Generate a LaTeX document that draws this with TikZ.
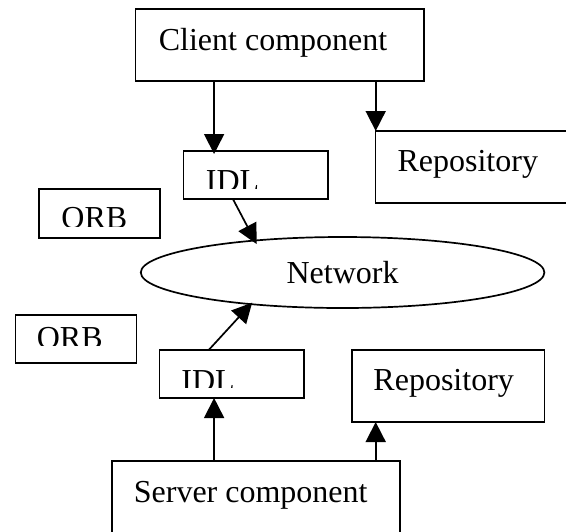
\documentclass[tikz,border=0pt]{standalone}
\usepackage{fontspec}
\setmainfont{Liberation Serif}
\usetikzlibrary{shapes.geometric}
\usetikzlibrary{arrows.meta}

\begin{document}
\begin{tikzpicture}[x=0.5pt,y=-0.5pt,line width=0.85pt,
  box/.style={draw,rectangle,inner sep=0,outer sep=0},
  lbl/.style={inner sep=0,anchor=base west,font=\fontsize{16}{19}\selectfont},
  arr/.style={-{Triangle[length=10pt,width=10pt]}}]
 \useasboundingbox (0,0) rectangle (566,531);
 \clip (0,0) rectangle (566,531);
 % boxes
 \node[box,minimum width=144.4pt,minimum height=36pt] (client) at (279.8,45) {};
 \node[box,minimum width=72.2pt,minimum height=24pt] (idlA) at (255.6,175) {};
 \node[box,minimum width=100pt,minimum height=36pt] (repoA) at (475.5,167) {};
 \node[box,minimum width=60.5pt,minimum height=24.5pt] (orbA) at (99.5,213.5) {};
 \node[draw,ellipse,inner sep=0,outer sep=0,minimum width=201.8pt,minimum height=35.5pt,
   font=\fontsize{16}{19}\selectfont] (net) at (342.6,272.5) {Network};
 \node[box,minimum width=60.5pt,minimum height=24pt] (orbB) at (76,339) {};
 \node[box,minimum width=72.2pt,minimum height=24pt] (idlB) at (231.8,374) {};
 \node[box,minimum width=96.2pt,minimum height=36pt] (repoB) at (448.2,386) {};
 \node[box,minimum width=144pt,minimum height=36pt] (server) at (256,497) {};
 % texts
 \node[lbl] (clienttxt) at (158,50.7) {Client component};
 \node[lbl] (repoAtxt) at (396.7,171.7) {Repository};
 \node[lbl] (repoBtxt) at (372.6,390.7) {Repository};
 \node[lbl] (servertxt) at (133,502) {Server component};
 \begin{scope}
  \clip (idlA.north west) rectangle (327.8,188);
  \node[lbl] (idlAtxt) at (205,191.7) {IDL};
 \end{scope}
 \begin{scope}
  \clip (orbA.north west) rectangle (160,226.7);
  \node[lbl] (orbAtxt) at (60.6,228.4) {ORB};
 \end{scope}
 \begin{scope}
  \clip (orbB.north west) rectangle (136.5,345);
  \node[lbl] (orbBtxt) at (36,348.4) {ORB};
 \end{scope}
 \begin{scope}
  \clip (idlB.north west) rectangle (304,387.7);
  \node[lbl] (idlBtxt) at (180.5,391.7) {IDL};
 \end{scope}
 % arrows
 \draw[arr,shorten >=-1.5pt] (client.south -| 214.1,0) -- (idlA.north -| 214.1,0);
 \draw[arr] (client.south -| 375.7,0) -- (repoA.north -| 375.7,0);
 \draw[arr,shorten >=-2pt] (idlA.south -| 232.9,0) -- (net.160.5);
 \draw[arr,shorten >=-1pt] (idlB.north -| 208.7,0) -- (net.199.6);
 \draw[arr] (server.north -| 214.1,0) -- (idlB.south -| 214.1,0);
 \draw[arr] (server.north -| 375.7,0) -- (repoB.south -| 375.7,0);
\end{tikzpicture}
\end{document}
